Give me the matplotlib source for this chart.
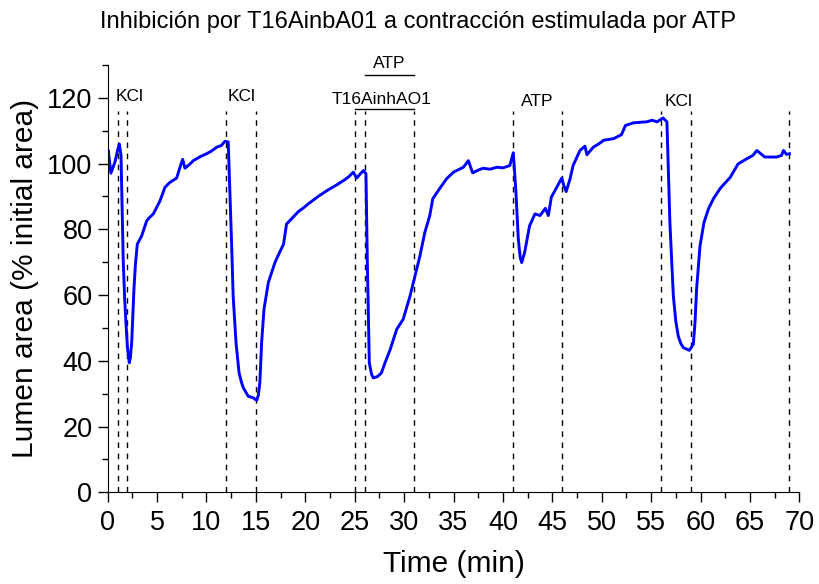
import matplotlib
matplotlib.use('Agg')
import matplotlib.pyplot as plt
from matplotlib.ticker import MultipleLocator

plt.rcParams['font.family'] = ['Liberation Sans', 'DejaVu Sans']

# traza (min, % área inicial)
t_min = [0.0, 0.06, 0.33, 0.74, 1.0, 1.18, 1.35, 1.47, 1.58, 1.72, 1.85, 2.0, 2.19, 2.3, 2.43,
         2.55, 2.66, 2.8, 3.0, 3.44, 3.95, 4.2, 4.62, 5.3, 5.8, 6.3, 6.98, 7.32, 7.59,
         7.82, 8.3, 8.67, 9.3, 10.0, 10.5, 11.03, 11.5, 11.87, 12.2,
         12.38, 12.55, 12.7, 12.99, 13.3, 13.56, 13.73, 14.23, 14.7, 15.08,
         15.25, 15.4, 15.58, 15.82, 16.26, 16.93, 17.4, 17.8, 18.1, 18.7, 19.3, 19.8, 20.5,
         21.3, 22.2, 23.0, 23.85, 24.4, 24.86, 25.2, 25.6, 25.9, 26.14,
         26.28, 26.48, 26.7, 26.88, 27.3, 27.7, 28.07, 28.6, 29.25, 29.9, 30.6, 31.1,
         31.6, 32.1, 32.6, 32.9, 33.46, 34.3, 35.0, 36.0, 36.5, 36.94,
         37.5, 38.0, 38.7, 39.4, 40.0, 40.7, 41.05, 41.3, 41.56, 41.75, 41.9,
         42.2, 42.7, 43.25, 43.76, 44.3, 44.6, 44.9, 45.45, 45.95, 46.2, 46.4,
         46.8, 47.1, 47.8, 48.3, 48.5, 49.15, 49.7, 50.2, 51.2, 52.0,
         52.4, 53.2, 54.0, 54.55, 55.1, 55.6, 56.2, 56.6, 56.7, 56.9,
         57.25, 57.5, 57.75, 58.0, 58.26, 58.87, 59.27, 59.45, 59.6, 59.95, 60.35, 60.8, 61.3,
         62.0, 63.0, 63.8, 64.7, 65.3, 65.7, 66.5, 67.7, 68.2, 68.4, 68.7, 69.0]
area = [101.0, 104.0, 97.1, 100.5, 104.0, 106.0, 102.5, 85.0, 69.9, 59.0, 51.6, 44.0, 39.4, 41.0, 45.5,
        54.0, 61.8, 69.0, 75.5, 78.0, 82.6, 83.5, 84.7, 88.7, 92.8, 94.3, 95.6, 98.9, 101.3,
        98.6, 99.8, 100.9, 102.0, 103.0, 103.8, 105.0, 105.5, 106.8, 106.6,
        90.3, 75.0, 59.7, 45.5, 36.3, 33.3, 31.8, 29.2, 28.8, 28.0,
        29.5, 33.3, 45.5, 55.7, 63.8, 69.9, 73.0, 75.5, 81.6, 83.5, 85.4, 86.5, 88.2,
        90.0, 91.8, 93.2, 94.8, 96.0, 97.4, 95.6, 97.0, 97.9, 96.9,
        69.9, 39.4, 36.0, 34.8, 35.2, 36.3, 39.4, 43.5, 49.6, 52.6, 59.7, 65.8,
        71.9, 79.1, 84.2, 89.3, 91.8, 95.4, 97.4, 98.9, 100.9, 97.2,
        98.0, 98.6, 98.3, 98.9, 98.7, 99.4, 103.3, 92.3, 77.0, 71.5, 69.9,
        73.0, 81.1, 84.7, 84.2, 86.4, 84.2, 89.8, 92.8, 95.6, 93.0, 91.5,
        95.4, 99.4, 104.0, 105.3, 102.7, 105.0, 106.0, 107.1, 107.6, 108.8,
        111.6, 112.4, 112.6, 112.7, 113.2, 112.7, 113.9, 112.7, 102.5, 82.1,
        59.7, 52.0, 47.5, 45.3, 44.0, 43.2, 45.0, 52.0, 61.8, 75.0, 82.1, 86.2, 89.3,
        92.5, 95.8, 99.9, 101.5, 102.5, 104.0, 102.0, 102.0, 102.5, 104.0, 102.8, 103.0]

# marcas de estímulo (líneas discontinuas)
event_times = [1, 2, 12, 15, 25, 26, 31, 41, 46, 56, 59, 69]

# etiquetas de estímulo
label_text = ['KCl', 'KCl', 'T16AinhAO1', 'ATP', 'KCl']
label_x = [2.2, 13.6, 27.7, 43.5, 57.8]
label_y = [120.5, 120.5, 119.4, 119.0, 119.0]

# barras de tratamiento (inicio, fin)
bar_start = [25, 26]
bar_end = [31, 31]
bar_y = [116.6, 126.9]
bar_label = ['', 'ATP']

x_ticks = list(range(0, 71, 5))
y_ticks = list(range(0, 121, 20))

fig = plt.figure(figsize=(8.2, 5.84), dpi=100)
ax = fig.add_axes([0.1313, 0.157, 0.8435, 0.7317])

for t in event_times:
    ax.plot([t, t], [0, 116], color='black', linestyle=(0, (4, 4)), linewidth=1.0)

ax.plot(t_min, area, color='#0000ff', linewidth=2.1)

for txt, x, y in zip(label_text, label_x, label_y):
    ax.text(x, y, txt, ha='center', va='center', fontsize=12.5)

for x0, x1, y, txt in zip(bar_start, bar_end, bar_y, bar_label):
    ax.plot([x0, x1], [y, y], color='black', linewidth=1.0, clip_on=False)
    if txt:
        ax.text((x0 + x1) / 2, y + 3.7, txt, ha='center', va='center', fontsize=12.5)

ax.set_xlim(0, 70)
ax.set_ylim(0, 130)
ax.set_xticks(x_ticks)
ax.set_yticks(y_ticks)
ax.xaxis.set_minor_locator(MultipleLocator(2.5))
ax.yaxis.set_minor_locator(MultipleLocator(10))
ax.tick_params(which='major', direction='out', length=7, width=1, labelsize=19.5, pad=4)
ax.tick_params(axis='x', which='major', pad=6)
ax.tick_params(which='minor', direction='out', length=4, width=1)
ax.spines['top'].set_visible(False)
ax.spines['right'].set_visible(False)

ax.set_xlabel('Time (min)', fontsize=21.5, labelpad=10)
ax.set_ylabel('Lumen area (% initial area)', fontsize=21.5, labelpad=6)
fig.text(0.51, 0.962, 'Inhibición por T16AinbA01 a contracción estimulada por ATP',
         ha='center', va='center', fontsize=17)

fig.savefig('out.png', dpi=100)
